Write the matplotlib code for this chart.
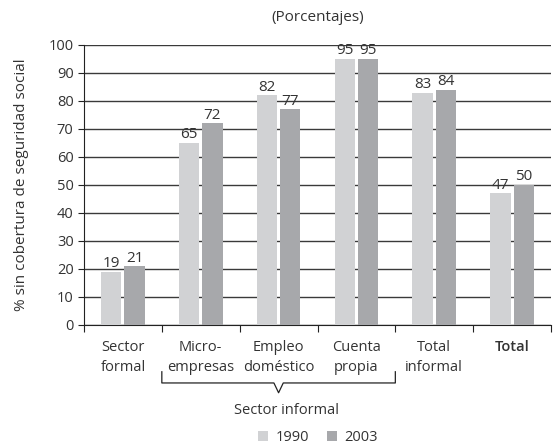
import numpy as np
import matplotlib.pyplot as plt

categories = ['Sector\nformal', 'Micro-\nempresas', 'Empleo\ndoméstico', 'Cuenta\npropia', 'Total\ninformal', 'Total']
v1990 = [19, 65, 82, 95, 83, 47]
v2003 = [21, 72, 77, 95, 84, 50]
years = ['1990', '2003']

c1990 = '#d1d2d4'
c2003 = '#a7a8ab'
txt = '#333333'

plt.rcParams['font.family'] = ['Open Sans', 'DejaVu Sans']
plt.rcParams['font.size'] = 10.5

fig = plt.figure(figsize=(5.54, 4.47), dpi=100)
ax = fig.add_axes([84/554, 1-325/447, 467/554, 280/447])

x = np.arange(len(categories))
w = 0.26
b1 = ax.bar(x - 0.15, v1990, w, color=c1990, label=years[0], zorder=3)
b2 = ax.bar(x + 0.15, v2003, w, color=c2003, label=years[1], zorder=3)
for bars in (b1, b2):
    for r in bars:
        ax.text(r.get_x() + r.get_width()/2, r.get_height() + 0.2, f'{r.get_height():.0f}',
                ha='center', va='bottom', color=txt, fontsize=11)

ax.set_xlim(-0.5, len(categories) - 0.5)
ax.set_ylim(0, 100)
ax.set_yticks(range(0, 101, 10))
ax.yaxis.grid(True, color='#3a3a3a', linewidth=1, zorder=0)
ax.set_axisbelow(True)
for s in ['top', 'right']:
    ax.spines[s].set_visible(False)
ax.spines['left'].set_color('#222222')
ax.spines['bottom'].set_color('#222222')
ax.tick_params(axis='y', length=4, colors=txt, labelsize=10.5, color='#222222')

# group boundaries as ticks, labels as minor ticks
ax.set_xticks(np.arange(-0.5, len(categories), 1.0))
ax.set_xticklabels([])
ax.tick_params(axis='x', which='major', length=5, color='#222222')
ax.set_xticks(x, minor=True)
ax.set_xticklabels(categories, minor=True, color=txt, fontsize=10.5, linespacing=1.45)
ax.tick_params(axis='x', which='minor', length=0, pad=11)
for lab in ax.get_xticklabels(minor=True):
    if lab.get_text() == 'Total':
        lab.set_fontweight('semibold')

ax.set_ylabel('% sin cobertura de seguridad social', color=txt, fontsize=11, labelpad=14)
ax.set_title('(Porcentajes)', color=txt, fontsize=11, pad=17)

# bracket for informal sector
tr = ax.get_xaxis_transform()
yb = -0.207
ax.plot([0.5, 0.5, 1.94, 2.0, 2.06, 3.5, 3.5],
        [yb + 0.04, yb, yb, yb - 0.035, yb, yb, yb + 0.04],
        transform=tr, color='#222222', linewidth=0.9, clip_on=False)
ax.text(2.1, -0.305, 'Sector informal', transform=tr, ha='center', va='center', color=txt, fontsize=10.5)

fig.legend(loc='lower center', bbox_to_anchor=(318/554, -0.025), ncol=2, frameon=False,
           handlelength=0.7, handleheight=0.7, handletextpad=0.5, columnspacing=1.2,
           labelcolor=txt, fontsize=10.5)

fig.savefig('out.png', dpi=100)
